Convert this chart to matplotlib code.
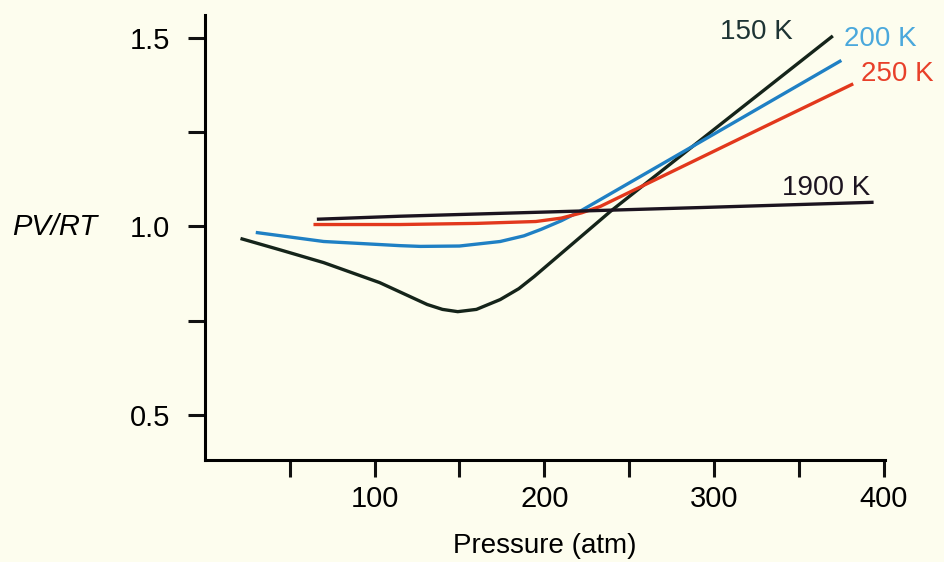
import matplotlib.pyplot as plt

# Curvas PV/RT frente a presion
p_150 = [21, 45, 70, 103, 131, 140, 149, 160, 174, 185, 194, 213, 239, 300, 370]
z_150 = [0.968, 0.937, 0.904, 0.851, 0.793, 0.780, 0.774, 0.780, 0.806, 0.835, 0.867, 0.940, 1.040, 1.257, 1.505]

p_200 = [30, 70, 115, 127, 150, 174, 188, 198, 210, 221, 253, 300, 375]
z_200 = [0.984, 0.960, 0.949, 0.947, 0.948, 0.960, 0.975, 0.992, 1.015, 1.040, 1.123, 1.245, 1.440]

p_250 = [64, 115, 160, 195, 210, 222, 233, 276, 330, 382]
z_250 = [1.005, 1.005, 1.008, 1.013, 1.022, 1.036, 1.053, 1.147, 1.265, 1.378]

p_1900 = [66, 115, 200, 292, 394]
z_1900 = [1.019, 1.027, 1.038, 1.050, 1.064]

series = [
    ("150 K", p_150, z_150, "#15241a"),
    ("200 K", p_200, z_200, "#1f80c4"),
    ("250 K", p_250, z_250, "#e2381c"),
    ("1900 K", p_1900, z_1900, "#1c1420"),
]
label_pos = {"150 K": (325, 1.515), "200 K": (398, 1.496), "250 K": (408, 1.404), "1900 K": (366, 1.103)}
label_col = {"150 K": "#1e3434", "200 K": "#4aa8dc", "250 K": "#e8402a", "1900 K": "#1c1420"}

plt.rcParams['font.family'] = ['Liberation Sans', 'DejaVu Sans']

fig = plt.figure(figsize=(9.44, 5.62), dpi=100, facecolor="#fdfdee")
ax = fig.add_axes([0.217, 0.181, 0.721, 0.792])
ax.set_facecolor("none")

for name, p, z, c in series:
    ax.plot(p, z, color=c, lw=2.4, solid_capstyle="butt")
    lx, ly = label_pos[name]
    ax.text(lx, ly, name, color=label_col[name], fontsize=20, ha="center", va="center")

ax.set_xlim(0, 401)
ax.set_ylim(0.38, 1.56)

ax.spines["top"].set_visible(False)
ax.spines["right"].set_visible(False)
ax.spines["left"].set_linewidth(2.2)
ax.spines["bottom"].set_linewidth(2.2)

ax.set_xticks([100, 200, 300, 400])
ax.set_xticklabels(["100", "200", "300", "400"])
ax.set_xticks([50, 150, 250, 350], minor=True)
ax.set_yticks([0.5, 1.0, 1.5])
ax.set_yticklabels(["0.5", "1.0", "1.5"])
ax.set_yticks([0.75, 1.25], minor=True)

ax.tick_params(which="both", direction="out", length=12, width=2.2, color="#111111")
ax.tick_params(axis="y", which="major", pad=13, labelsize=21)
ax.tick_params(axis="x", which="major", pad=6, labelsize=21)

ax.set_xlabel("Pressure (atm)", fontsize=20, labelpad=14)
fig.text(55 / 944, 1 - 227 / 562, "PV/RT", fontsize=21, style="italic", ha="center", va="center")

fig.savefig("out.png", dpi=100, facecolor=fig.get_facecolor())
